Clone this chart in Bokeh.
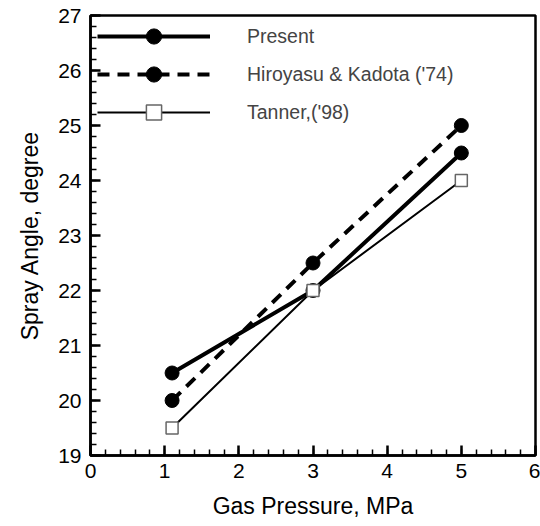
from bokeh.plotting import figure
from bokeh.models import Legend, LegendItem, SingleIntervalTicker, Range1d
from bokeh.embed import file_html
from bokeh.resources import INLINE

pressure = [1.1, 3.0, 5.0]
present = [20.5, 22.0, 24.5]
hiroyasu = [20.0, 22.5, 25.0]
tanner = [19.5, 22.0, 24.0]
labels = ["Present", "Hiroyasu & Kadota ('74)", "Tanner,('98)"]

FONT = "Liberation Sans"

p = figure(width=540, height=526, output_backend="svg", toolbar_location=None,
           x_range=Range1d(0, 6), y_range=Range1d(19, 27),
           min_border_left=90, min_border_right=5, min_border_top=15, min_border_bottom=71)
p.grid.visible = False
p.outline_line_color = "black"
p.outline_line_width = 2.5

l1 = p.line(pressure, present, line_color="black", line_width=4)
s1 = p.scatter(pressure, present, size=14, color="black")
l2 = p.line(pressure, hiroyasu, line_color="black", line_width=4, line_dash="12 8")
s2 = p.scatter(pressure, hiroyasu, size=14, color="black")
l3 = p.line(pressure, tanner, line_color="black", line_width=2)
s3 = p.scatter(pressure, tanner, marker="square", size=12, fill_color="white",
               line_color="#666666", line_width=1.5)

legend = Legend(items=[
    LegendItem(label=labels[0], renderers=[l1, s1]),
    LegendItem(label=labels[1], renderers=[l2, s2]),
    LegendItem(label=labels[2], renderers=[l3, s3]),
], location=(5, 322))
legend.glyph_width = 113
legend.glyph_height = 38
legend.label_height = 38
legend.spacing = 0
legend.padding = 2
legend.margin = 0
legend.label_standoff = 37
legend.label_text_font = FONT
legend.label_text_font_size = "19.5px"
legend.border_line_alpha = 0
legend.background_fill_alpha = 0
p.add_layout(legend)

for ax in (p.xaxis[0], p.yaxis[0]):
    ax.axis_line_width = 2.5
    ax.major_tick_in = 10
    ax.major_tick_out = 0
    ax.minor_tick_in = 6
    ax.minor_tick_out = 0
    ax.major_tick_line_width = 2.5
    ax.minor_tick_line_width = 1.5
    ax.major_tick_line_color = "black"
    ax.minor_tick_line_color = "black"
    ax.major_label_text_font = FONT
    ax.major_label_text_font_size = "21px"
    ax.axis_label_text_font = FONT
    ax.axis_label_text_font_size = "23px"
    ax.axis_label_text_font_style = "normal"
    ax.axis_label_text_color = "black"
    ax.major_label_text_color = "black"

p.xaxis.ticker = SingleIntervalTicker(interval=1, num_minor_ticks=5)
p.yaxis.ticker = SingleIntervalTicker(interval=1, num_minor_ticks=5)
p.xaxis.axis_label = "Gas Pressure, MPa"
p.yaxis.axis_label = "Spray Angle, degree"
p.xaxis.major_label_standoff = 8
p.yaxis.major_label_standoff = 9
p.xaxis.axis_label_standoff = 12
p.yaxis.axis_label_standoff = 12

open("out.html", "w").write(file_html(p, INLINE))
